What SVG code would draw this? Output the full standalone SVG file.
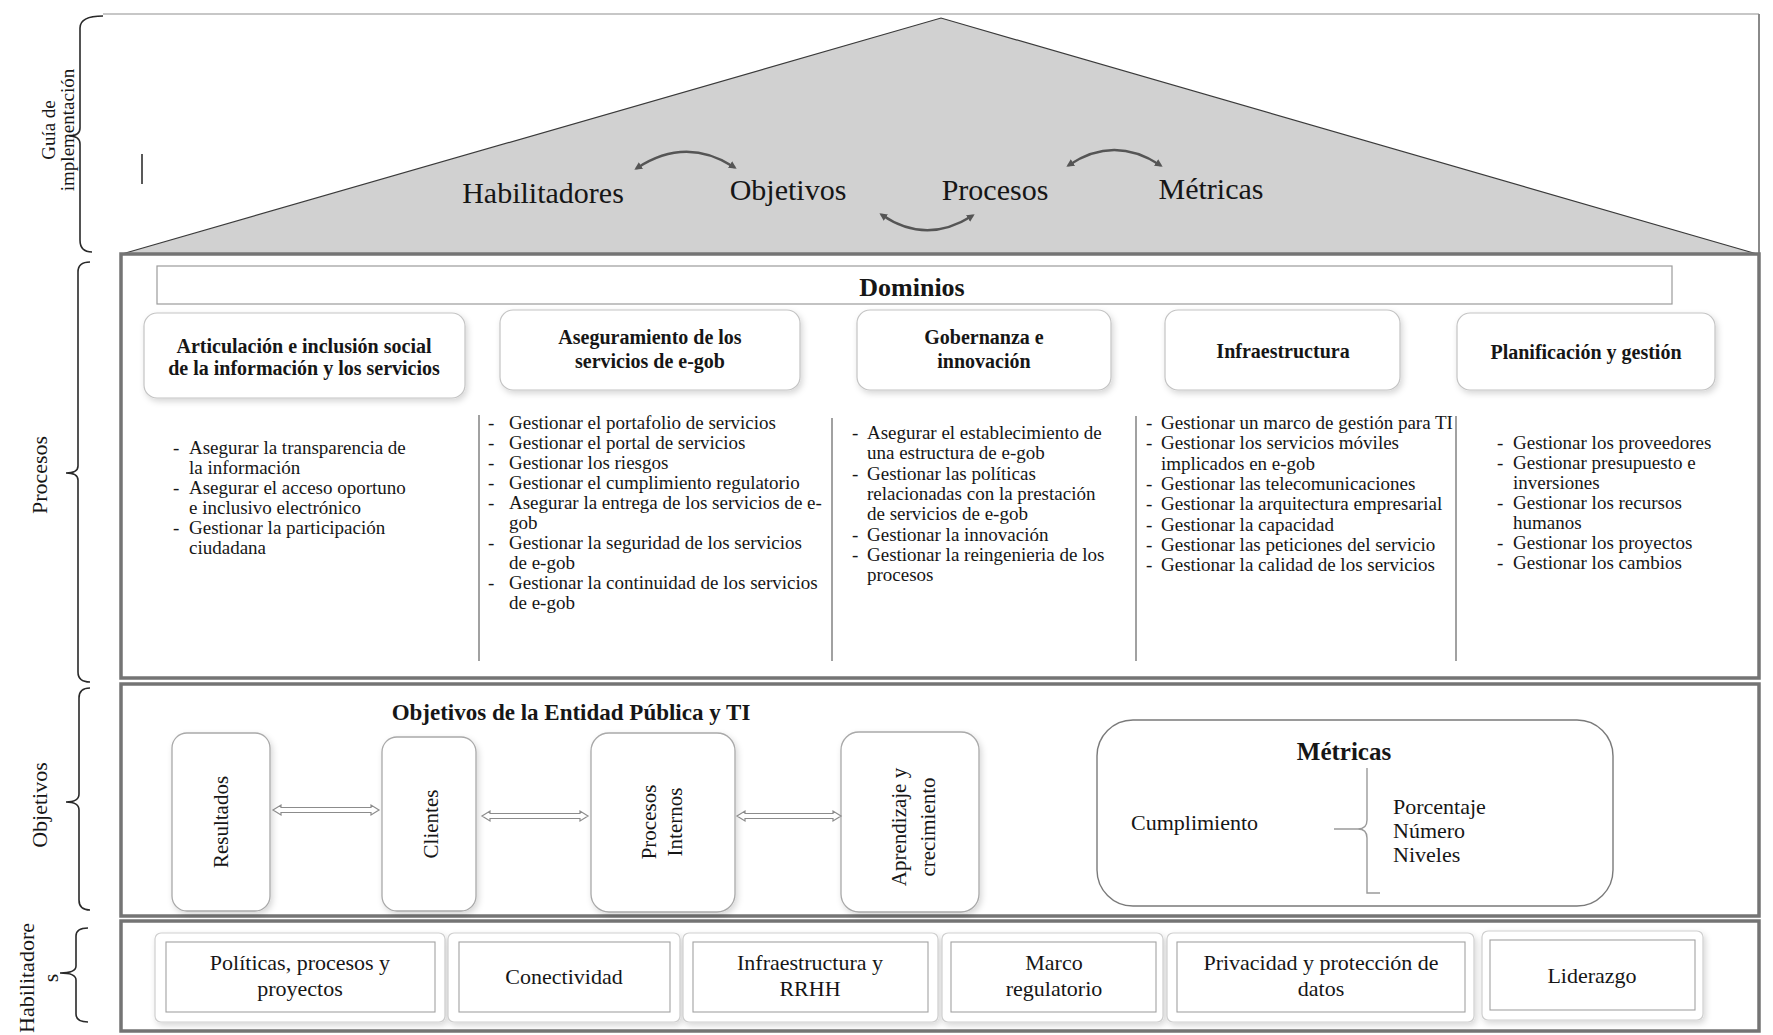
<svg xmlns="http://www.w3.org/2000/svg" width="1773" height="1035" viewBox="0 0 1773 1035">
<defs>
<style>
text{font-family:"Liberation Serif","Times New Roman",serif;fill:#161616}
.lst{font-size:19px}
.hd{font-size:20px;font-weight:bold;text-anchor:middle}
.top{font-size:30px;text-anchor:middle}
.side{font-size:22px;text-anchor:middle}
.obj{font-size:21px;text-anchor:middle}
.hab{font-size:22px;text-anchor:middle}
.met{font-size:22px}
.sec{fill:none;stroke:#747474;stroke-width:3.5}
.hbox{fill:#fff;stroke:#c4c4c4;stroke-width:1.2}
.div{stroke:#8a8a8a;stroke-width:1.6}
.vbox{fill:#fff;stroke:#a9a9a9;stroke-width:1.3}
.brace{fill:none;stroke:#2a2a2a;stroke-width:1.6}
.arc{fill:none;stroke:#555;stroke-width:2.6;stroke-linecap:round}
.darr{fill:#fff;stroke:#8c8c8c;stroke-width:1.2}
.outer{fill:#fff;stroke:#cfcfcf;stroke-width:1.2}
.inner{fill:#fff;stroke:#a2a2a2;stroke-width:1.1}
</style>
<filter id="sh" x="-10%" y="-10%" width="120%" height="130%">
<feDropShadow dx="2" dy="3" stdDeviation="3" flood-color="#000" flood-opacity="0.16"/>
</filter>
<marker id="ah" viewBox="0 0 10 10" refX="6" refY="5" markerWidth="3" markerHeight="3" orient="auto-start-reverse">
<path d="M0,0 L10,5 L0,10 z" fill="#555"/>
</marker>
</defs>
<rect width="1773" height="1035" fill="#fff"/>

<!-- top frame -->
<g id="top-frame">
<line x1="103" y1="14" x2="1759" y2="14" stroke="#b4b4b4" stroke-width="1.6"/>
<line x1="1759" y1="14" x2="1759" y2="254" stroke="#8a8a8a" stroke-width="2"/>
<line x1="142" y1="154" x2="142" y2="184" stroke="#222" stroke-width="1.5"/>
</g>

<!-- roof -->
<g id="roof">
<polygon points="122,254 941,18 1757,254" fill="#d1d1d1" stroke="#3a3a3a" stroke-width="1.2"/>
<text class="top" x="543" y="203">Habilitadores</text>
<text class="top" x="788" y="200">Objetivos</text>
<text class="top" x="995" y="200">Procesos</text>
<text class="top" x="1211" y="199">Métricas</text>
</g>

<!-- side labels and braces -->
<g id="side-labels">
<path class="brace" d="M103,16 Q80,16 80,28 L80,128 Q80,136 69,136 Q80,136 80,144 L80,240 Q80,252 92,252"/>
<text class="side" style="font-size:19px" transform="translate(55,130) rotate(-90)"><tspan x="0" y="0">Guía de</tspan><tspan x="0" y="19">implementación</tspan></text>
<path class="brace" d="M90,262 Q78,262 78,272 L78,466 Q78,473 66,473 Q78,473 78,480 L78,672 Q78,682 90,682"/>
<text class="side" transform="translate(47,475) rotate(-90)">Procesos</text>
<path class="brace" d="M90,688 Q79,688 79,698 L79,794 Q79,802 66,802 Q79,802 79,810 L79,900 Q79,910 90,910"/>
<text class="side" transform="translate(47,805) rotate(-90)">Objetivos</text>
<path class="brace" d="M88,928 Q76,928 76,936 L76,966 Q76,973 60,973 Q76,973 76,980 L76,1014 Q76,1022 88,1022"/>
<text class="side" transform="translate(34,978) rotate(-90)"><tspan x="0" y="0">Habilitadore</tspan><tspan x="0" y="24">s</tspan></text>
</g>

<!-- section frames -->
<g id="sections">
<rect class="sec" x="121" y="254" width="1638" height="424"/>
<rect class="sec" x="121" y="684" width="1638" height="232"/>
<rect class="sec" x="121" y="921" width="1638" height="110"/>
</g>

<!-- Dominios -->
<g id="dominios">
<rect x="157" y="266" width="1515" height="38" fill="#fff" stroke="#9c9c9c" stroke-width="1.2"/>
<text x="912" y="296" style="font-size:26px;font-weight:bold;text-anchor:middle">Dominios</text>
</g>

<!-- domain headers -->
<g id="dom-articulacion">
<rect class="hbox" filter="url(#sh)" x="144" y="313" width="321" height="85" rx="13"/>
<text class="hd" x="304" y="353">Articulación e inclusión social</text>
<text class="hd" x="304" y="375">de la información y los servicios</text>
</g>
<g id="dom-aseguramiento">
<rect class="hbox" filter="url(#sh)" x="500" y="310" width="300" height="80" rx="13"/>
<text class="hd" x="650" y="344">Aseguramiento de los</text>
<text class="hd" x="650" y="368">servicios de e-gob</text>
</g>
<g id="dom-gobernanza">
<rect class="hbox" filter="url(#sh)" x="857" y="310" width="254" height="80" rx="13"/>
<text class="hd" x="984" y="344">Gobernanza e</text>
<text class="hd" x="984" y="368">innovación</text>
</g>
<g id="dom-infraestructura">
<rect class="hbox" filter="url(#sh)" x="1165" y="310" width="235" height="80" rx="13"/>
<text class="hd" x="1283" y="358">Infraestructura</text>
</g>
<g id="dom-planificacion">
<rect class="hbox" filter="url(#sh)" x="1457" y="313" width="258" height="77" rx="13"/>
<text class="hd" x="1586" y="359">Planificación y gestión</text>
</g>

<!-- column dividers -->
<g id="col-dividers">
<line class="div" x1="479" y1="415" x2="479" y2="661"/>
<line class="div" x1="832" y1="418" x2="832" y2="661"/>
<line class="div" x1="1136" y1="416" x2="1136" y2="661"/>
<line class="div" x1="1456" y1="416" x2="1456" y2="661"/>
</g>

<!-- process lists -->
<g id="list-articulacion" class="lst">
<text class="lst"><tspan x="173" y="454">-</tspan><tspan x="189">Asegurar la transparencia de</tspan></text>
<text class="lst" x="189" y="474">la información</text>
<text class="lst"><tspan x="173" y="494">-</tspan><tspan x="189">Asegurar el acceso oportuno</tspan></text>
<text class="lst" x="189" y="514">e inclusivo electrónico</text>
<text class="lst"><tspan x="173" y="534">-</tspan><tspan x="189">Gestionar la participación</tspan></text>
<text class="lst" x="189" y="554">ciudadana</text>
</g>
<g id="list-aseguramiento">
<text class="lst"><tspan x="488" y="429">-</tspan><tspan x="509">Gestionar el portafolio de servicios</tspan></text>
<text class="lst"><tspan x="488" y="449">-</tspan><tspan x="509">Gestionar el portal de servicios</tspan></text>
<text class="lst"><tspan x="488" y="469">-</tspan><tspan x="509">Gestionar los riesgos</tspan></text>
<text class="lst"><tspan x="488" y="489">-</tspan><tspan x="509">Gestionar el cumplimiento regulatorio</tspan></text>
<text class="lst"><tspan x="488" y="509">-</tspan><tspan x="509">Asegurar la entrega de los servicios de e-</tspan></text>
<text class="lst" x="509" y="529">gob</text>
<text class="lst"><tspan x="488" y="549">-</tspan><tspan x="509">Gestionar la seguridad de los servicios</tspan></text>
<text class="lst" x="509" y="569">de e-gob</text>
<text class="lst"><tspan x="488" y="589">-</tspan><tspan x="509">Gestionar la continuidad de los servicios</tspan></text>
<text class="lst" x="509" y="609">de e-gob</text>
</g>
<g id="list-gobernanza">
<text class="lst"><tspan x="852" y="439">-</tspan><tspan x="867">Asegurar el establecimiento de</tspan></text>
<text class="lst" x="867" y="459">una estructura de e-gob</text>
<text class="lst"><tspan x="852" y="480">-</tspan><tspan x="867">Gestionar las políticas</tspan></text>
<text class="lst" x="867" y="500">relacionadas con la prestación</text>
<text class="lst" x="867" y="520">de servicios de e-gob</text>
<text class="lst"><tspan x="852" y="541">-</tspan><tspan x="867">Gestionar la innovación</tspan></text>
<text class="lst"><tspan x="852" y="561">-</tspan><tspan x="867">Gestionar la reingenieria de los</tspan></text>
<text class="lst" x="867" y="581">procesos</text>
</g>
<g id="list-infraestructura">
<text class="lst"><tspan x="1146" y="429">-</tspan><tspan x="1161">Gestionar un marco de gestión para TI</tspan></text>
<text class="lst"><tspan x="1146" y="449">-</tspan><tspan x="1161">Gestionar los servicios móviles</tspan></text>
<text class="lst" x="1161" y="470">implicados en e-gob</text>
<text class="lst"><tspan x="1146" y="490">-</tspan><tspan x="1161">Gestionar las telecomunicaciones</tspan></text>
<text class="lst"><tspan x="1146" y="510">-</tspan><tspan x="1161">Gestionar la arquitectura empresarial</tspan></text>
<text class="lst"><tspan x="1146" y="531">-</tspan><tspan x="1161">Gestionar la capacidad</tspan></text>
<text class="lst"><tspan x="1146" y="551">-</tspan><tspan x="1161">Gestionar las peticiones del servicio</tspan></text>
<text class="lst"><tspan x="1146" y="571">-</tspan><tspan x="1161">Gestionar la calidad de los servicios</tspan></text>
</g>
<g id="list-planificacion">
<text class="lst"><tspan x="1497" y="449">-</tspan><tspan x="1513">Gestionar los proveedores</tspan></text>
<text class="lst"><tspan x="1497" y="469">-</tspan><tspan x="1513">Gestionar presupuesto e</tspan></text>
<text class="lst" x="1513" y="489">inversiones</text>
<text class="lst"><tspan x="1497" y="509">-</tspan><tspan x="1513">Gestionar los recursos</tspan></text>
<text class="lst" x="1513" y="529">humanos</text>
<text class="lst"><tspan x="1497" y="549">-</tspan><tspan x="1513">Gestionar los proyectos</tspan></text>
<text class="lst"><tspan x="1497" y="569">-</tspan><tspan x="1513">Gestionar los cambios</tspan></text>
</g>

<!-- Objetivos section -->
<g id="obj-title">
<text x="571" y="720" style="font-size:23px;font-weight:bold;text-anchor:middle">Objetivos de la Entidad Pública y TI</text>
</g>
<g id="obj-resultados">
<rect class="vbox" filter="url(#sh)" x="172" y="733" width="98" height="178" rx="15"/>
<text class="obj" transform="translate(228,822) rotate(-90)">Resultados</text>
</g>
<g id="obj-clientes">
<rect class="vbox" filter="url(#sh)" x="382" y="737" width="94" height="174" rx="15"/>
<text class="obj" transform="translate(438,824) rotate(-90)">Clientes</text>
</g>
<g id="obj-procesos">
<rect class="vbox" filter="url(#sh)" x="591" y="733" width="144" height="179" rx="18"/>
<text class="obj" transform="translate(656,822) rotate(-90)"><tspan x="0" y="0">Procesos</tspan><tspan x="0" y="26">Internos</tspan></text>
</g>
<g id="obj-aprendizaje">
<rect class="vbox" filter="url(#sh)" x="841" y="732" width="138" height="180" rx="18"/>
<text class="obj" transform="translate(906,827) rotate(-90)"><tspan x="0" y="0">Aprendizaje y</tspan><tspan x="0" y="29">crecimiento</tspan></text>
</g>
<g id="metricas">
<rect x="1097" y="720" width="516" height="186" rx="36" fill="#fff" stroke="#7a7a7a" stroke-width="1.4"/>
<text x="1344" y="760" style="font-size:25px;font-weight:bold;text-anchor:middle">Métricas</text>
<text class="met" x="1131" y="830">Cumplimiento</text>
<path d="M1334,829 L1358,829 Q1367,829 1367,820 L1367,768 M1367,838 Q1367,829 1358,829 M1367,838 L1367,893 L1380,893" fill="none" stroke="#9a9a9a" stroke-width="1.4"/>
<text class="met" x="1393" y="814">Porcentaje</text>
<text class="met" x="1393" y="838">Número</text>
<text class="met" x="1393" y="862">Niveles</text>
</g>

<!-- Habilitadores section -->
<g id="hab-politicas">
<rect class="outer" filter="url(#sh)" x="155" y="933" width="290" height="89" rx="6"/>
<rect class="inner" x="166" y="942" width="269" height="70"/>
<text class="hab" x="300" y="970">Políticas, procesos y</text>
<text class="hab" x="300" y="996">proyectos</text>
</g>
<g id="hab-conectividad">
<rect class="outer" filter="url(#sh)" x="448" y="933" width="232" height="89" rx="6"/>
<rect class="inner" x="459" y="942" width="211" height="70"/>
<text class="hab" x="564" y="984">Conectividad</text>
</g>
<g id="hab-infraestructura">
<rect class="outer" filter="url(#sh)" x="683" y="933" width="255" height="89" rx="6"/>
<rect class="inner" x="693" y="942" width="235" height="70"/>
<text class="hab" x="810" y="970">Infraestructura y</text>
<text class="hab" x="810" y="996">RRHH</text>
</g>
<g id="hab-marco">
<rect class="outer" filter="url(#sh)" x="942" y="933" width="221" height="89" rx="6"/>
<rect class="inner" x="951" y="942" width="205" height="70"/>
<text class="hab" x="1054" y="970">Marco</text>
<text class="hab" x="1054" y="996">regulatorio</text>
</g>
<g id="hab-privacidad">
<rect class="outer" filter="url(#sh)" x="1167" y="933" width="307" height="89" rx="6"/>
<rect class="inner" x="1177" y="942" width="288" height="70"/>
<text class="hab" x="1321" y="970">Privacidad y protección de</text>
<text class="hab" x="1321" y="996">datos</text>
</g>
<g id="hab-liderazgo">
<rect class="outer" filter="url(#sh)" x="1482" y="931" width="221" height="89" rx="6"/>
<rect class="inner" x="1490" y="940" width="205" height="70"/>
<text class="hab" x="1592" y="983">Liderazgo</text>
</g>

<!-- connectors -->
<g id="connectors">
<path class="arc" d="M637,168 Q686,136 734,167" marker-start="url(#ah)" marker-end="url(#ah)"/>
<path class="arc" d="M882,215 Q926,245 972,216" marker-start="url(#ah)" marker-end="url(#ah)"/>
<path class="arc" d="M1069,165 Q1114,135 1160,165" marker-start="url(#ah)" marker-end="url(#ah)"/>
<path class="darr" d="M273,810 L281,805 L281,807.5 L371,807.5 L371,805 L379,810 L371,815 L371,812.5 L281,812.5 L281,815 Z"/>
<path class="darr" d="M482,816 L490,811 L490,813.5 L580,813.5 L580,811 L588,816 L580,821 L580,818.5 L490,818.5 L490,821 Z"/>
<path class="darr" d="M737,816 L745,811 L745,813.5 L833,813.5 L833,811 L841,816 L833,821 L833,818.5 L745,818.5 L745,821 Z"/>
</g>
</svg>
